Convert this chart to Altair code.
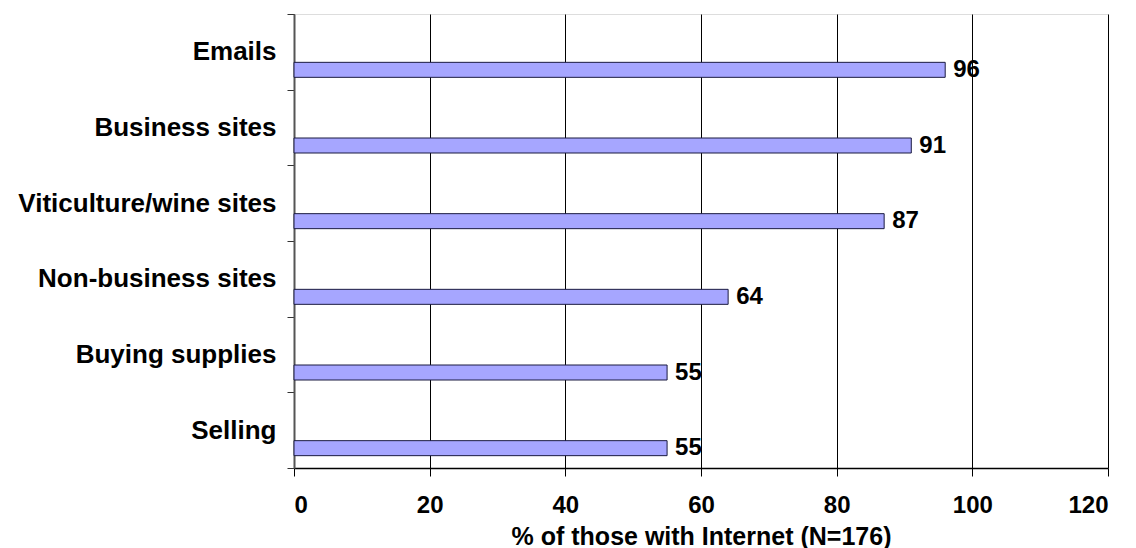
import altair as alt
import pandas as pd

categories = ["Emails", "Business sites", "Viticulture/wine sites",
              "Non-business sites", "Buying supplies", "Selling"]
values = [96, 91, 87, 64, 55, 55]
x_ticks = [0, 20, 40, 60, 80, 100, 120]

df = pd.DataFrame({"cat": categories, "val": values})

FONT = "Liberation Sans"

y_enc = alt.Y("cat:N", sort=categories, title=None,
              scale=alt.Scale(paddingInner=0, paddingOuter=0),
              axis=alt.Axis(tickBand="extent", labelFontSize=26, labelFontWeight="bold",
                            labelFont=FONT, labelColor="black", labelPadding=11,
                            tickSize=7, tickColor="#333333", domainColor="#555555",
                            domainWidth=2, labelLimit=400, grid=False))

x_enc = alt.X("val:Q", title="% of those with Internet (N=176)",
              scale=alt.Scale(domain=[0, 120], nice=False),
              axis=alt.Axis(values=x_ticks, labelFontSize=24, labelFontWeight="bold",
                            labelFont=FONT, labelColor="black", labelPadding=17,
                            tickSize=8, tickColor="black", domainColor="black",
                            domainWidth=1.5, gridColor="black", gridWidth=1,
                            titleFontSize=25, titleFont=FONT, titleFontWeight="bold",
                            titleColor="black", titlePadding=7))

bars = alt.Chart(df).mark_bar(size=15, yOffset=18, fill="#a6a6ff",
                              stroke="#1a1a40", strokeWidth=1).encode(x=x_enc, y=y_enc)

labels = alt.Chart(df).mark_text(align="left", baseline="middle", dx=8, yOffset=18,
                                 fontSize=24, fontWeight="bold", font=FONT,
                                 color="black").encode(
    x="val:Q", y=alt.Y("cat:N", sort=categories), text="val:Q")

chart = (bars + labels).properties(
    width=814, height=454,
    autosize="none",
    padding={"left": 294, "top": 14, "right": 28, "bottom": 80},
).configure_view(stroke="#a0a0a0", strokeWidth=1.5).configure(background="white")

chart.save("out.html", embed_options={"renderer": "svg", "actions": False})
